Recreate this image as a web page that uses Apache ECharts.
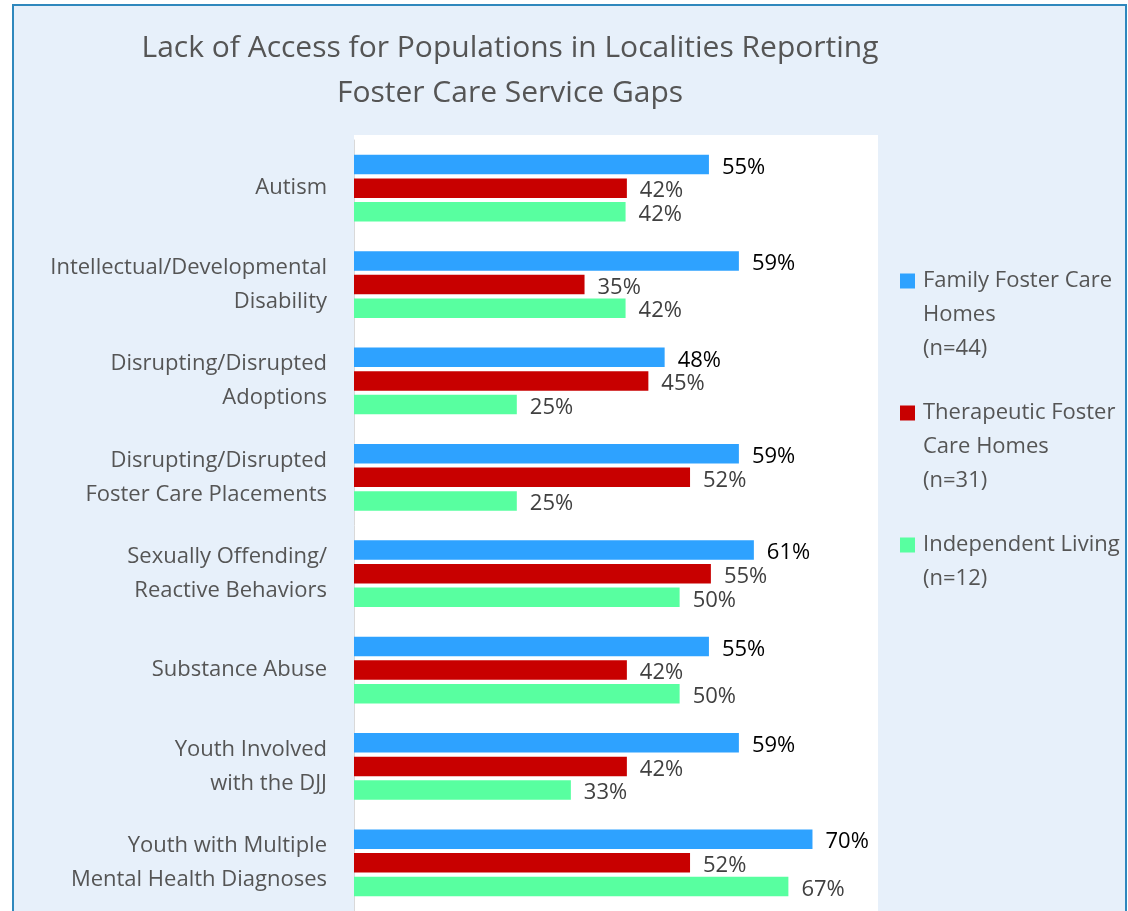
<!DOCTYPE html>
<html>
<head>
<meta charset="utf-8">
<title>Lack of Access for Populations</title>
<script src="https://cdn.jsdelivr.net/npm/echarts@6.0.0/dist/echarts.min.js"></script>
<style>
  html, body { margin: 0; padding: 0; background: #fff; }
  #chart { width: 1128px; height: 911px; }
</style>
</head>
<body>
<div id="chart"></div>
<script>
// categories, top to bottom
var categories = [
  'Autism',
  'Intellectual/Developmental\nDisability',
  'Disrupting/Disrupted\nAdoptions',
  'Disrupting/Disrupted\nFoster Care Placements',
  'Sexually Offending/\nReactive Behaviors',
  'Substance Abuse',
  'Youth Involved\nwith the DJJ',
  'Youth with Multiple\nMental Health Diagnoses'
];
var seriesNames = [
  'Family Foster Care\nHomes\n(n=44)',
  'Therapeutic Foster\nCare Homes\n(n=31)',
  'Independent Living\n(n=12)'
];
// percent values (labels show them rounded)
var familyFoster = [54.5, 59.1, 47.7, 59.1, 61.4, 54.5, 59.1, 70.4];
var therapeutic = [41.9, 35.4, 45.2, 51.6, 54.8, 41.9, 41.9, 51.6];
var independent = [41.7, 41.7, 25, 25, 50, 50, 33.3, 66.7];

var colors = ['#2ea2ff', '#c80000', '#58ffa0'];
var font = 'Open Sans';
var textGray = '#555555';

function makeSeries (name, data, color, labelColor) {
  return {
    name: name,
    type: 'bar',
    data: data,
    barWidth: 19.5,
    barGap: '21%',
    itemStyle: { color: color },
    label: {
      show: true,
      position: 'right',
      distance: 13,
      offset: [0, 3],
      color: labelColor,
      fontFamily: font,
      fontSize: 22,
      formatter: function (p) { return Math.round(p.value) + '%' }
    }
  }
}

var chart = echarts.init(document.getElementById('chart'));
var option = {
  backgroundColor: '#fff',
  animation: false,
  graphic: [
    {
      type: 'rect',
      z: -2,
      shape: { x: 13, y: 5, width: 1113, height: 1000 },
      style: { fill: '#e7f0fa', stroke: '#2f88bd', lineWidth: 2 }
    },
    {
      type: 'rect',
      z: -1,
      shape: { x: 354, y: 135, width: 524, height: 800 },
      style: { fill: '#ffffff' }
    }
  ],
  title: {
    text: 'Lack of Access for Populations in Localities Reporting\nFoster Care Service Gaps',
    left: 510,
    top: 26,
    padding: 0,
    textAlign: 'center',
    textStyle: {
      fontFamily: font,
      fontSize: 30,
      fontWeight: 'normal',
      color: textGray,
      lineHeight: 45
    }
  },
  legend: {
    orient: 'vertical',
    left: 900,
    top: 196,
    padding: 0,
    itemGap: -38,
    itemWidth: 15,
    itemHeight: 15,
    icon: 'rect',
    data: seriesNames,
    // pad with blank lines so the first line of each name sits beside its square
    formatter: function (name) {
      var lines = name.split('\n').length;
      return '\n\n' + name + (lines < 3 ? '\n ' : '');
    },
    textStyle: {
      fontFamily: font,
      fontSize: 22,
      color: textGray,
      lineHeight: 34,
      padding: [0, 0, 0, 3]
    }
  },
  grid: {
    left: 354,
    top: 140,
    width: 521,
    height: 774
  },
  xAxis: {
    type: 'value',
    min: 0,
    max: 80,
    show: false,
    splitLine: { show: false }
  },
  yAxis: {
    type: 'category',
    inverse: true,
    data: categories,
    axisTick: { show: false },
    axisLine: { show: true, lineStyle: { color: '#d9d9d9', width: 1 } },
    axisLabel: {
      margin: 27,
      fontFamily: font,
      fontSize: 22,
      lineHeight: 34,
      color: textGray
    }
  },
  series: [
    makeSeries(seriesNames[0], familyFoster, colors[0], '#000000'),
    makeSeries(seriesNames[1], therapeutic, colors[1], '#404040'),
    makeSeries(seriesNames[2], independent, colors[2], '#404040')
  ]
};
chart.setOption(option);
</script>
</body>
</html>
